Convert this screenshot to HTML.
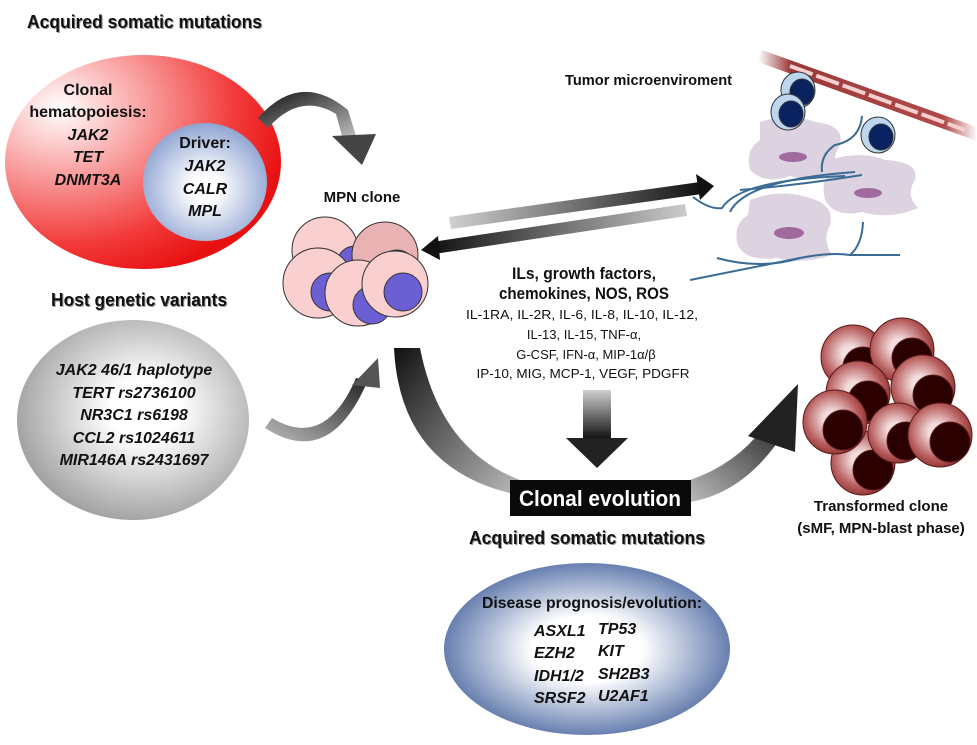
<!DOCTYPE html>
<html><head><meta charset="utf-8"><style>
body{margin:0;background:#fff}
svg{display:block;font-family:"Liberation Sans",sans-serif}
.b{font-weight:bold}
.bi{font-weight:bold;font-style:italic}
</style></head><body>
<svg width="977" height="745" viewBox="0 0 977 745" xmlns="http://www.w3.org/2000/svg">
<defs>
<radialGradient id="red" cx="0.2" cy="0.25" r="0.85"><stop offset="0" stop-color="#fff"/><stop offset="0.75" stop-color="#f23a3a"/><stop offset="1" stop-color="#e81010"/></radialGradient>
<radialGradient id="blu" cx="0.5" cy="0.55" r="0.55"><stop offset="0.2" stop-color="#fff"/><stop offset="1" stop-color="#8fa4d2"/></radialGradient>
<radialGradient id="gry" cx="0.55" cy="0.45" r="0.6"><stop offset="0.25" stop-color="#fff"/><stop offset="1" stop-color="#9a9a9a"/></radialGradient>
<radialGradient id="blu2" cx="0.5" cy="0.5" r="0.55"><stop offset="0.35" stop-color="#fff"/><stop offset="1" stop-color="#4f6ba3"/></radialGradient>
<radialGradient id="rc" cx="0.45" cy="0.45" r="0.6"><stop offset="0.2" stop-color="#f3dede"/><stop offset="0.7" stop-color="#b65b5b"/><stop offset="1" stop-color="#8a2b2b"/></radialGradient>
<linearGradient id="g1" x1="0" y1="0" x2="1" y2="0"><stop offset="0" stop-color="#d0d0d0"/><stop offset="1" stop-color="#111"/></linearGradient>
<linearGradient id="g2" x1="1" y1="0" x2="0" y2="0"><stop offset="0" stop-color="#ccc"/><stop offset="1" stop-color="#111"/></linearGradient>
<linearGradient id="gd" x1="0" y1="0" x2="0" y2="1"><stop offset="0" stop-color="#d0d0d0"/><stop offset="1" stop-color="#111"/></linearGradient>
<linearGradient id="gc" x1="0" y1="0" x2="1" y2="1"><stop offset="0" stop-color="#111"/><stop offset="1" stop-color="#bbb"/></linearGradient>
<linearGradient id="gc2" x1="0" y1="1" x2="1" y2="0"><stop offset="0" stop-color="#bbb"/><stop offset="1" stop-color="#222"/></linearGradient>
<linearGradient id="vs" x1="0" y1="0" x2="1" y2="0"><stop offset="0" stop-color="#fff"/><stop offset="0.15" stop-color="#9a3838"/><stop offset="0.85" stop-color="#b04a4a"/><stop offset="1" stop-color="#fff"/></linearGradient>
</defs>

<text x="27" y="28" class="b" font-size="18" fill="#999" transform="translate(1,1)" textLength="235" lengthAdjust="spacingAndGlyphs">Acquired somatic mutations</text>
<text x="27" y="28" class="b" font-size="18" fill="#111" textLength="235" lengthAdjust="spacingAndGlyphs">Acquired somatic mutations</text>

<ellipse cx="143" cy="162" rx="138" ry="107" fill="url(#red)"/>
<ellipse cx="205" cy="182" rx="62" ry="59" fill="url(#blu)"/>
<g class="b" font-size="16" text-anchor="middle" fill="#111">
<text x="88" y="95">Clonal</text>
<text x="88" y="117">hematopoiesis:</text>
<text x="205" y="148">Driver:</text>
</g>
<g class="bi" font-size="16" text-anchor="middle" fill="#111">
<text x="88" y="140">JAK2</text><text x="88" y="162">TET</text><text x="88" y="185">DNMT3A</text>
<text x="205" y="171">JAK2</text><text x="205" y="194">CALR</text><text x="205" y="216">MPL</text>
</g>

<path d="M258,118 Q300,70 348,110 L356,136 L342,136 L336,114 Q300,92 268,128 Z" fill="url(#gc)"/>
<path d="M332,136 L376,134 L362,165 Z" fill="#444"/>

<text x="362" y="202" class="b" font-size="15" text-anchor="middle" fill="#111">MPN clone</text>

<g stroke="#333" stroke-width="1">
<circle cx="325" cy="250" r="33" fill="#f9cfcf"/><circle cx="355" cy="264" r="18" fill="#6b5fd3"/>
<circle cx="385" cy="255" r="33" fill="#e9b3b3"/><circle cx="397" cy="268" r="18" fill="#6b5fd3"/>
<circle cx="318" cy="283" r="35" fill="#f9cfcf"/><circle cx="330" cy="292" r="19" fill="#6b5fd3"/>
<circle cx="358" cy="293" r="33" fill="#f9cfcf"/><circle cx="372" cy="305" r="19" fill="#6b5fd3"/>
<circle cx="395" cy="284" r="33" fill="#f9cfcf"/><circle cx="403" cy="292" r="19" fill="#6b5fd3"/>
</g>

<text x="139" y="306" class="b" font-size="18" text-anchor="middle" fill="#999" transform="translate(1,1)" textLength="176" lengthAdjust="spacingAndGlyphs">Host genetic variants</text>
<text x="139" y="306" class="b" font-size="18" text-anchor="middle" fill="#111" textLength="176" lengthAdjust="spacingAndGlyphs">Host genetic variants</text>
<ellipse cx="133" cy="420" rx="116" ry="100" fill="url(#gry)"/>
<g class="bi" font-size="16" text-anchor="middle" fill="#111">
<text x="134" y="375">JAK2 46/1 haplotype</text>
<text x="134" y="398">TERT rs2736100</text>
<text x="134" y="420">NR3C1 rs6198</text>
<text x="134" y="443">CCL2 rs1024611</text>
<text x="134" y="465">MIR146A rs2431697</text>
</g>

<path d="M265,428 Q330,470 368,380 L356,378 Q325,450 272,418 Z" fill="url(#gc2)"/>
<path d="M352,385 L378,358 L380,388 Z" fill="#555"/>

<path d="M394,348 L420,348 Q440,450 520,480 L518,495 Q400,470 394,348 Z" fill="url(#gc)"/>
<path d="M690,480 Q742,462 770,418 L787,428 Q748,492 690,502 Z" fill="url(#gc2)"/>
<path d="M748,436 L798,384 L795,452 Z" fill="#222"/>

<rect x="510" y="480" width="181" height="36" fill="#0a0a0a"/>
<text x="600" y="506" class="b" font-size="22" text-anchor="middle" fill="#fff" textLength="162" lengthAdjust="spacingAndGlyphs">Clonal evolution</text>

<rect x="583" y="390" width="28" height="49" fill="url(#gd)"/>
<path d="M566,438 L628,438 L597,468 Z" fill="#222"/>

<text x="587" y="544" class="b" font-size="18" text-anchor="middle" fill="#999" transform="translate(1,1)" textLength="236" lengthAdjust="spacingAndGlyphs">Acquired somatic mutations</text>
<text x="587" y="544" class="b" font-size="18" text-anchor="middle" fill="#111" textLength="236" lengthAdjust="spacingAndGlyphs">Acquired somatic mutations</text>

<ellipse cx="587" cy="649" rx="143" ry="86" fill="url(#blu2)"/>
<text x="592" y="608" class="b" font-size="16" text-anchor="middle" fill="#111" textLength="220" lengthAdjust="spacingAndGlyphs">Disease prognosis/evolution:</text>
<g class="bi" font-size="16" fill="#111">
<text x="534" y="636">ASXL1</text><text x="598" y="634">TP53</text>
<text x="534" y="658">EZH2</text><text x="598" y="656">KIT</text>
<text x="534" y="681">IDH1/2</text><text x="598" y="679">SH2B3</text>
<text x="534" y="703">SRSF2</text><text x="598" y="701">U2AF1</text>
</g>

<path d="M449,217 L700,182 L702,194 L451,229 Z" fill="url(#g1)"/>
<path d="M696,174 L714,186 L700,200 Z" fill="#111"/>
<path d="M685,204 L687,216 L434,254 L432,242 Z" fill="url(#g2)"/>
<path d="M421,250 L438,236 L440,260 Z" fill="#111"/>

<g text-anchor="middle" fill="#111">
<text x="584" y="279" class="b" font-size="17" textLength="144" lengthAdjust="spacingAndGlyphs">ILs, growth factors,</text>
<text x="584" y="299" class="b" font-size="17" textLength="170" lengthAdjust="spacingAndGlyphs">chemokines, NOS, ROS</text>
<g font-size="13">
<text x="582" y="319" textLength="232" lengthAdjust="spacingAndGlyphs">IL-1RA, IL-2R, IL-6, IL-8, IL-10, IL-12,</text>
<text x="584" y="339">IL-13, IL-15, TNF-α,</text>
<text x="586" y="359">G-CSF, IFN-α, MIP-1α/β</text>
<text x="583" y="378" textLength="213" lengthAdjust="spacingAndGlyphs">IP-10, MIG, MCP-1, VEGF, PDGFR</text>
</g></g>

<text x="565" y="85" class="b" font-size="15" fill="#111" textLength="167" lengthAdjust="spacingAndGlyphs">Tumor microenviroment</text>
<path d="M762,50 L977,127 L977,141 L758,62 Z" fill="url(#vs)"/>
<path d="M790,66 L965,130" stroke="#f6d0d0" stroke-width="4" stroke-dasharray="24 4"/>
<g fill="#ddd2e0">
<path d="M760,122 Q790,112 815,122 Q845,125 840,145 Q830,160 840,172 Q810,182 790,176 Q765,185 750,170 Q745,150 760,140 Z"/>
<path d="M830,160 Q860,150 885,160 Q920,162 915,180 Q905,195 918,208 Q890,220 862,212 Q835,218 825,200 Q820,180 832,172 Z"/>
<path d="M750,200 Q780,188 810,198 Q835,205 830,225 Q822,240 832,255 Q800,265 778,258 Q745,262 738,245 Q732,225 748,215 Z"/>
</g>
<g fill="#a06a9e"><ellipse cx="793" cy="157" rx="14" ry="5"/><ellipse cx="868" cy="193" rx="14" ry="5"/><ellipse cx="789" cy="233" rx="15" ry="6"/></g>
<g fill="none" stroke="#3a6b95" stroke-width="2">
<path d="M693,197 Q710,210 722,208 Q740,180 845,176"/>
<path d="M730,212 Q745,180 855,172"/>
<path d="M740,190 Q800,185 862,175"/>
<path d="M862,116 Q860,140 835,145 Q820,155 822,172"/>
<path d="M690,280 L800,258 Q830,252 850,255 L900,255"/>
<path d="M717,258 Q760,270 800,258"/>
<path d="M863,222 Q862,245 850,255"/>
</g>
<g stroke="#333" stroke-width="1">
<ellipse cx="798" cy="90" rx="17" ry="18" fill="#bcd6ee"/><ellipse cx="802" cy="92" rx="12" ry="13" fill="#0b2260"/>
<ellipse cx="788" cy="112" rx="17" ry="18" fill="#bcd6ee"/><ellipse cx="791" cy="114" rx="12" ry="13" fill="#0b2260"/>
<ellipse cx="878" cy="135" rx="17" ry="18" fill="#bcd6ee"/><ellipse cx="881" cy="137" rx="12" ry="13" fill="#0b2260"/>
</g>

<g stroke="#5a1a1a" stroke-width="1">
<circle cx="853" cy="357" r="32" fill="url(#rc)"/><circle cx="863" cy="367" r="20" fill="#2a0000"/>
<circle cx="902" cy="350" r="32" fill="url(#rc)"/><circle cx="912" cy="358" r="20" fill="#2a0000"/>
<circle cx="858" cy="393" r="32" fill="url(#rc)"/><circle cx="868" cy="401" r="20" fill="#2a0000"/>
<circle cx="923" cy="387" r="32" fill="url(#rc)"/><circle cx="933" cy="395" r="20" fill="#2a0000"/>
<circle cx="863" cy="463" r="32" fill="url(#rc)"/><circle cx="873" cy="470" r="20" fill="#2a0000"/>
<circle cx="835" cy="422" r="32" fill="url(#rc)"/><circle cx="843" cy="430" r="20" fill="#2a0000"/>
<circle cx="898" cy="433" r="30" fill="url(#rc)"/><circle cx="906" cy="441" r="19" fill="#2a0000"/>
<circle cx="940" cy="435" r="32" fill="url(#rc)"/><circle cx="950" cy="442" r="20" fill="#2a0000"/>
</g>
<g class="b" font-size="15" text-anchor="middle" fill="#111">
<text x="881" y="511">Transformed clone</text>
<text x="881" y="533">(sMF, MPN-blast phase)</text>
</g>
</svg>
</body></html>
